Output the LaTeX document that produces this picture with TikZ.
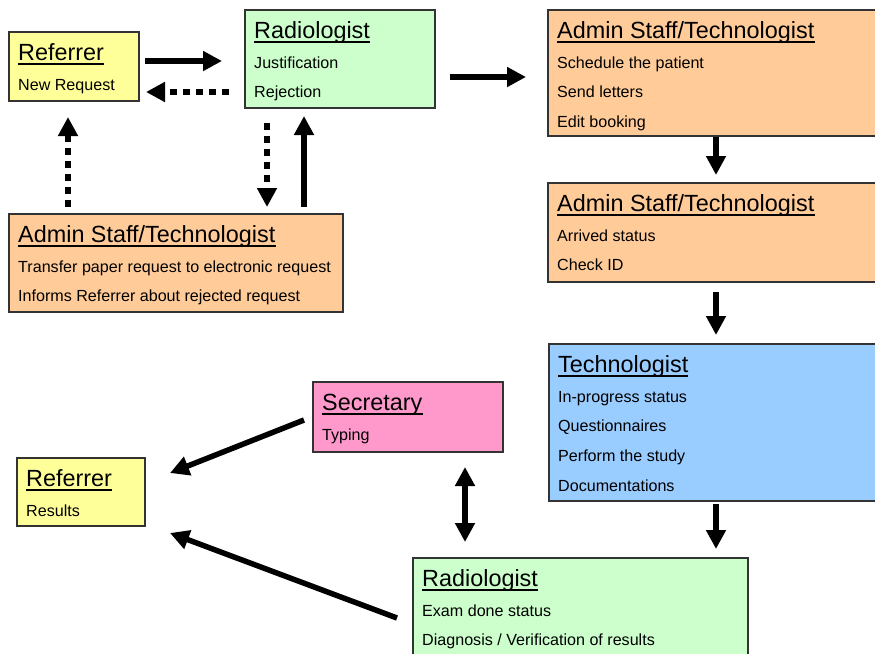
\documentclass[tikz,border=0pt]{standalone}
\usepackage{fontspec}
\setmainfont{Liberation Sans}
\usetikzlibrary{arrows.meta}

\definecolor{boxyellow}{HTML}{FFFF99}
\definecolor{boxgreen}{HTML}{CCFFCC}
\definecolor{boxorange}{HTML}{FFCC99}
\definecolor{boxblue}{HTML}{99CCFF}
\definecolor{boxpink}{HTML}{FF99CC}

\tikzset{
  box/.style={draw=black!80, line width=1.3pt, anchor=north west, inner sep=0pt, outer sep=0pt},
  titletext/.style={anchor=base west, inner sep=0pt, font=\fontsize{23.4}{27}\selectfont},
  itemtext/.style={anchor=base west, inner sep=0pt, font=\fontsize{16.1}{19}\selectfont},
  flow/.style={line width=5.5pt, -{Triangle[length=19pt,width=19pt]}},
  backflow/.style={flow, dash pattern=on 7pt off 6pt},
  twoway/.style={line width=5.5pt, {Triangle[length=19pt,width=19pt]}-{Triangle[length=19pt,width=19pt]}},
}

% #1 name, #2 x, #3 y, #4 width, #5 height, #6 fill, #7 title, #8 list of items
\newcommand\flowbox[8]{%
  \node[box, fill=#6, minimum width=#4pt, minimum height=#5pt] (#1) at (#2,#3) {};
  \node[titletext] (#1-t) at ([shift={(9,28)}]#1.north west) {#7};
  \draw[line width=1.2pt] ([shift={(0,4)}]#1-t.base west) -- ([shift={(0,4)}]#1-t.base east);
  \foreach \txt [count=\idx] in {#8} {
    \node[itemtext] (#1-\idx) at ([shift={(9,{58+29.7*(\idx-1)})}]#1.north west) {\txt};
  }
}

\begin{document}
\begin{tikzpicture}[x=1pt,y=-1pt]
  \clip (0,0) rectangle (875,653);
  \fill[white] (0,0) rectangle (875,653);

  % request and justification loop
  \flowbox{refA}{9}{32}{130}{69}{boxyellow}{Referrer}{New Request}
  \flowbox{radA}{245}{10}{190}{98}{boxgreen}{Radiologist}{Justification,Rejection}
  \flowbox{admL}{9}{214}{334}{98}{boxorange}{Admin Staff/Technologist}%
    {Transfer paper request to electronic request,Informs Referrer about rejected request}

  % scheduling and examination chain
  \flowbox{admA}{548}{10}{340}{126}{boxorange}{Admin Staff/Technologist}%
    {Schedule the patient,Send letters,Edit booking}
  \flowbox{admB}{548}{183}{340}{99}{boxorange}{Admin Staff/Technologist}%
    {Arrived status,Check ID}
  \flowbox{tech}{549}{344}{340}{157}{boxblue}{Technologist}%
    {In-progress status,Questionnaires,Perform the study,Documentations}

  % reporting
  \flowbox{sec}{313}{382}{190}{70}{boxpink}{Secretary}{Typing}
  \flowbox{refB}{17}{458}{128}{68}{boxyellow}{Referrer}{Results}
  \flowbox{radB}{413}{558}{335}{120}{boxgreen}{Radiologist}%
    {Exam done status,Diagnosis / Verification of results}

  % connectors
  \draw[flow] ([shift={(6,29)}]refA.north east) -- ([shift={(-23,51)}]radA.north west);
  \draw[backflow] ([shift={(-16,82)}]radA.north west) -- ([shift={(7,60)}]refA.north east);
  \draw[backflow] ([shift={(59,-7)}]admL.north west) -- ([shift={(59,16)}]refA.south west);
  \draw[backflow] ([shift={(22,15)}]radA.south west) -- ([shift={(258,-7)}]admL.north west);
  \draw[flow] ([shift={(295,-7)}]admL.north west) -- ([shift={(59,8)}]radA.south west);
  \draw[flow] ([shift={(15,67)}]radA.north east) -- ([shift={(-22,67)}]admA.north west);
  \draw[flow] ([shift={(168,1)}]admA.south west) -- ([shift={(168,-8)}]admB.north west);
  \draw[flow] ([shift={(168,10)}]admB.south west) -- ([shift={(167,-9)}]tech.north west);
  \draw[flow] ([shift={(167,3)}]tech.south west) -- ([shift={(303,-9)}]radB.north west);
  \draw[twoway] ([shift={(152,15)}]sec.south west) -- ([shift={(52,-16)}]radB.north west);
  \draw[flow] ([shift={(-9,38)}]sec.north west) -- ([shift={(25,15)}]refB.north east);
  \draw[flow] ([shift={(-16,60)}]radB.north west) -- ([shift={(25,7)}]refB.south east);
\end{tikzpicture}
\end{document}
